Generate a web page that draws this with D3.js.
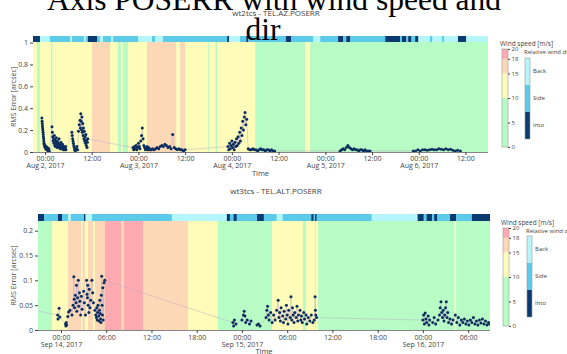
<!DOCTYPE html>
<html><head><meta charset="utf-8">
<script src="https://cdn.jsdelivr.net/npm/d3@7"></script>
<style>body{margin:0;background:#fff;overflow:hidden}text{font-family:"Open Sans","DejaVu Sans",sans-serif}</style>
</head><body><svg id="c" width="567" height="354"></svg>
<script>
// ---------------- DATA ----------------
const titleText = "Axis POSERR with wind speed and dir";
const panelTitles = ["wt2tcs - TEL.AZ.POSERR", "wt3tcs - TEL.ALT.POSERR"];
const speedThresholds = [10, 15, 18];
const speedColors = ["#b7fcc5", "#fdfdb9", "#fdd8b7", "#fdabb1"];
const speedTicks = [0, 5, 10, 15, 18, 20];
const dirCategories = ["Into", "Side", "Back"];
const dirColors = ["#0b3a70", "#5ccbe9", "#b4f6fb"];

// panel 1 (hours since 2017-08-02 00:00 UTC)
const azRangeH = [-3.08, 113.8];
const azYTicks = [0, 0.2, 0.4, 0.6, 0.8, 1];
const azSpeedStartH = [-3.1,-2.06,-1.29,1.54,1.93,12.08,16.7,18.76,19.5,20.0,21.3,26.2,33.7,34.7,36.0,41.9,42.1,43.8,44.2,54.0,66.8,68.1];
const azSpeed = [12,8,12,8,12,16,12,8,12,8,12,16,12,16,12,8,12,8,12,8,12,8];
const azDirStartH = [-3.1,-1.29,1.29,6.43,6.94,10.0,10.5,11.05,13.4,14.1,14.9,17.0,17.5,23.9,27.5,28.3,30.3,46.8,47.3,50.1,51.7,52.2,61.9,63.2,68.9,70.7,75.3,76.6,77.4,78.4,87.4,91.2,91.7,92.8,93.3,94.1,95.1,95.9,98.9,99.5,102.0,102.5,106.1,108.2];
const azDir = ["Into","Back","Side","Back","Side","Back","Side","Into","Side","Back","Side","Back","Side","Back","Side","Back","Side","Into","Back","Side","Into","Side","Into","Side","Back","Side","Into","Side","Into","Side","Into","Side","Into","Side","Into","Side","Into","Back","Side","Back","Side","Back","Into","Back"];
const azErr = [
[-0.8,0.31],[-0.75,0.28],[-0.7,0.26],[-0.65,0.24],[-0.6,0.22],[-0.55,0.2],[-0.5,0.18],[-0.45,0.16],[-0.4,0.14],[-0.35,0.12],[-0.3,0.1],[-0.25,0.08],[-0.2,0.07],[-0.1,0.05],[0,0.06],[0.1,0.04],[0.2,0.03],[0.3,0.05],[0.4,0.02],[0.5,0.03],[0.6,0.04],[0.7,0.02],[0.8,0.01],[0.9,0.02],[1.0,0.03],[1.1,0.01],
[1.8,0.23],[1.9,0.18],[2.0,0.14],[2.1,0.1],[2.2,0.12],[2.3,0.08],[2.4,0.15],[2.5,0.06],[2.6,0.11],[2.7,0.05],[2.8,0.09],[2.9,0.13],[3.0,0.07],[3.1,0.04],[3.2,0.1],[3.3,0.06],[3.4,0.08],[3.5,0.05],[3.6,0.12],[3.7,0.04],[3.8,0.07],[3.9,0.03],[4.0,0.06],[4.1,0.09],[4.2,0.04],[4.3,0.05],[4.4,0.03],[4.5,0.07],[4.6,0.04],[4.7,0.02],[4.8,0.05],[4.9,0.03],[5.0,0.04],[5.1,0.02],[5.2,0.03],[5.3,0.05],[5.4,0.02],
[6.9,0.18],[7.0,0.15],[7.1,0.12],[7.2,0.1],[7.3,0.08],[7.4,0.06],[7.5,0.04],[7.6,0.02],[7.8,0.01],[8.0,0.03],[8.2,0.05],[8.4,0.02],[8.6,0.19],[8.8,0.25],[9.0,0.29],[9.1,0.22],[9.2,0.35],[9.3,0.28],[9.4,0.2],[9.5,0.32],[9.6,0.18],[9.7,0.26],[9.8,0.15],[9.9,0.22],[10.0,0.12],[10.1,0.19],[10.2,0.1],[10.3,0.14],[10.4,0.08],[10.5,0.16],[10.6,0.06],[10.7,0.11],[10.8,0.04],[10.9,0.09],[11.0,0.12],
[22.6,0.04],[22.8,0.02],[23.0,0.05],[23.2,0.03],[23.4,0.06],[23.6,0.02],[23.8,0.04],[24.0,0.08],[24.2,0.05],[24.4,0.03],[24.6,0.1],[24.8,0.15],[25.0,0.22],[25.2,0.12],[25.4,0.06],[25.6,0.04],[25.8,0.02],[26.0,0.03],[26.2,0.05],[26.4,0.02],[26.6,0.04],[26.8,0.03],[27.0,0.02],
[27.3,0.02],[27.6,0.03],[28,0.02],[28.4,0.03],[28.8,0.04],[29.2,0.03],[29.6,0.05],[30,0.06],[30.4,0.05],[30.8,0.07],[31.2,0.06],[31.6,0.04],[32,0.05],[32.4,0.03],[32.8,0.16],[33.2,0.04],[33.6,0.03],[34,0.02],[34.4,0.03],[34.8,0.02],[35.2,0.02],[35.6,0.01],[36,0.02],
[47.0,0.05],[47.2,0.02],[47.4,0.08],[47.6,0.03],[47.8,0.06],[48.0,0.1],[48.2,0.04],[48.4,0.07],[48.6,0.02],[48.8,0.09],[49.0,0.05],[49.2,0.12],[49.4,0.06],[49.6,0.14],[49.8,0.08],[50.0,0.18],[50.2,0.1],[50.4,0.22],[50.6,0.15],[50.8,0.28],[51.0,0.2],[51.2,0.32],[51.4,0.36],[51.6,0.25],[51.8,0.3],
[52.2,0.03],[52.6,0.02],[53,0.02],[53.4,0.03],[53.8,0.02],[54.2,0.02],[54.6,0.01],[55,0.02],[55.4,0.03],[55.8,0.02],[56.2,0.02],[56.6,0.01],[57,0.02],[57.4,0.02],[57.8,0.01],[58.2,0.02],[58.6,0.01],[59,0.01],
[75.8,0.01],[76.2,0.02],[76.6,0.03],[77,0.02],[77.4,0.04],[77.8,0.06],[78.2,0.04],[78.6,0.03],[79,0.02],[79.4,0.03],[79.8,0.02],[80.2,0.02],[80.6,0.01],[81,0.02],[81.4,0.02],[81.8,0.01],[82.2,0.02],[82.6,0.01],[83,0.01],[83.5,0.01],
[94.6,0.01],[95.2,0.01],[95.8,0.02],[96.4,0.01],[97,0.02],[97.6,0.02],[98.2,0.015],[98.8,0.02],[99.4,0.025],[100,0.02],[100.6,0.02],[101.2,0.03],[101.8,0.025],[102.4,0.02],[103,0.03],[103.6,0.02],[104.2,0.025],[104.8,0.015],[105.4,0.01],[106,0.015],[106.7,0.01]
];

// panel 2 (hours since 2017-09-14 00:00 UTC)
const altRangeH = [-3.05, 56.9];
const altYTicks = [0, 0.05, 0.1, 0.15, 0.2];
const altSpeedStartH = [-3.1,-1.19,0.93,2.65,2.85,3.18,3.58,4.24,4.5,5.83,7.96,8.35,10.87,16.84,20.8,27.98,32.1,32.5,33.7,33.8,34.1,52.2,52.4];
const altSpeed = [8,12,16,12,16,12,16,12,16,19,16,19,16,12,8,12,8,12,8,12,8,12,8];
const altDirStartH = [-3.1,-2.25,-0.4,0.13,0.93,1.33,3.05,3.25,4.11,14.7,22.0,22.4,22.9,23.3,26.0,26.9,28.6,29.4,33.2,33.5,33.7,33.9,41.2,47.3,48.1,48.5,49.2,49.5,49.9,51.6,52.4,54.5];
const altDir = ["Into","Side","Into","Side","Back","Side","Into","Back","Side","Back","Into","Side","Into","Side","Into","Side","Back","Side","Into","Side","Into","Side","Back","Into","Side","Into","Side","Into","Side","Into","Side","Into"];
const altErr = [
[-5,0.045],
[-0.45,0.03],[-0.4,0.022],[-0.25,0.044],[-0.15,0.026],[0.6,0.012],[0.65,0.008],[0.7,0.015],[0.75,0.01],[0.9,0.027],[1.0,0.036],[1.2,0.04],[1.45,0.03],[1.6,0.05],[1.7,0.107],[1.75,0.062],[1.8,0.045],[1.9,0.07],[2.0,0.055],[2.05,0.09],[2.1,0.038],[2.2,0.065],[2.3,0.1],[2.35,0.048],[2.45,0.075],[2.5,0.058],[2.6,0.03],[2.7,0.068],[2.8,0.042],[3.0,0.078],[3.1,0.055],[3.25,0.03],[3.4,0.1],[3.45,0.072],[3.5,0.065],[3.55,0.09],[3.6,0.05],[3.7,0.035],[3.75,0.082],[3.85,0.045],[3.95,0.06],[4.1,0.1],[4.2,0.075],[4.3,0.055],[4.5,0.04],[4.6,0.03],[4.7,0.025],[4.75,0.045],[4.8,0.02],[4.85,0.035],[4.9,0.05],[5.0,0.028],[5.05,0.018],[5.1,0.04],[5.15,0.06],[5.2,0.033],[5.25,0.022],[5.3,0.015],[5.35,0.07],[5.4,0.108],[5.45,0.05],[5.5,0.03],[5.55,0.085],[5.6,0.02],[5.7,0.095],[5.8,0.1],
[22.8,0.015],[22.9,0.008],[23.0,0.02],[23.2,0.012],[24.0,0.02],[24.2,0.03],[24.3,0.038],[24.4,0.028],[24.5,0.015],[24.7,0.02],[25.0,0.012],[25.2,0.018],[26.0,0.01],[26.2,0.012],[26.4,0.008],[27.2,0.025],[27.3,0.04],[27.4,0.048],[27.5,0.03],[27.6,0.02],[27.8,0.035],[28.0,0.015],[28.2,0.03],[28.4,0.02],[28.6,0.04],[28.8,0.06],[28.9,0.025],[29.0,0.035],[29.1,0.018],[29.2,0.045],[29.4,0.028],[29.5,0.015],[29.6,0.038],[29.8,0.022],[29.9,0.05],[30.0,0.03],[30.1,0.012],[30.2,0.04],[30.4,0.025],[30.5,0.067],[30.6,0.02],[30.7,0.045],[30.8,0.03],[30.9,0.015],[31.0,0.035],[31.2,0.025],[31.3,0.048],[31.4,0.018],[31.5,0.03],[31.7,0.04],[31.8,0.02],[31.9,0.028],[32.0,0.015],[32.2,0.035],[32.3,0.022],[32.5,0.03],[32.6,0.012],[32.8,0.025],[33.0,0.018],[33.2,0.03],[33.4,0.015],[33.6,0.02],[33.7,0.067],[33.75,0.04],[33.8,0.03],[33.9,0.025],
[48.0,0.02],[48.1,0.03],[48.2,0.012],[48.3,0.034],[48.4,0.022],[48.5,0.015],[48.7,0.028],[48.8,0.01],[48.9,0.02],[49.3,0.015],[49.5,0.025],[49.7,0.012],[50.0,0.02],[50.2,0.03],[50.3,0.045],[50.4,0.057],[50.5,0.035],[50.6,0.025],[50.7,0.04],[50.8,0.018],[50.9,0.03],[51.0,0.045],[51.1,0.057],[51.2,0.025],[51.3,0.035],[51.4,0.015],[51.6,0.022],[51.8,0.012],[52.0,0.02],[52.3,0.03],[52.5,0.015],[52.7,0.025],[52.9,0.01],[53.1,0.02],[53.3,0.015],[53.5,0.022],[53.7,0.012],[53.9,0.018],[54.1,0.01],[54.3,0.02],[54.5,0.015],[54.7,0.025],[54.9,0.012],[55.1,0.018],[55.3,0.01],[55.5,0.02],[55.7,0.014],[55.9,0.022],[56.1,0.012],[56.3,0.018],[56.5,0.01],[56.7,0.015],[56.85,0.012]
];

// ---------------- DRAWING ----------------
const svg = d3.select("#c");
const speedColor = d3.scaleThreshold().domain(speedThresholds).range(speedColors);
const dirColor = d3.scaleOrdinal().domain(dirCategories).range(dirColors);
const grey = "#444";

const panels = [
  {title: panelTitles[0], base: Date.UTC(2017,7,2), range: azRangeH, yTicks: azYTicks, yMax: 1.005,
   speedStart: azSpeedStartH, speed: azSpeed, dirStart: azDirStartH, dir: azDir, err: azErr, tickEvery: 12,
   L: 33, R: 488, bandTop: 36, top: 42, bottom: 152, titleY: 16, xlab1: 161, timeY: 176,
   leg: {x: 502, titleY: 46, cbTop: 49, cbBot: 147, dx: 525, dtitleY: 54, dTop: 58, dBot: 139}},
  {title: panelTitles[1], base: Date.UTC(2017,8,14), range: altRangeH, yTicks: altYTicks, yMax: 0.2195,
   speedStart: altSpeedStartH, speed: altSpeed, dirStart: altDirStartH, dir: altDir, err: altErr, tickEvery: 6,
   L: 38, R: 490, bandTop: 214, top: 221, bottom: 330, titleY: 194, xlab1: 339.5, timeY: 353.5,
   leg: {x: 503, titleY: 224.5, cbTop: 228, cbBot: 326, dx: 527, dtitleY: 233, dTop: 236, dBot: 317}}
];

const hToDate = (base, h) => new Date(base + h * 3600e3);

panels.forEach((p, pi) => {
  const g = svg.append("g");
  const x = d3.scaleUtc().domain(p.range.map(h => hToDate(p.base, h))).range([p.L, p.R]);
  const y = d3.scaleLinear().domain([0, p.yMax]).range([p.bottom, p.top]);
  const clipId = "clip" + pi;
  svg.append("clipPath").attr("id", clipId).append("rect")
    .attr("x", p.L).attr("y", p.bandTop).attr("width", p.R - p.L).attr("height", p.bottom - p.bandTop);
  const cg = g.append("g").attr("clip-path", `url(#${clipId})`);

  const segs = p.speedStart.map((s, i) => ({s, e: i < p.speedStart.length - 1 ? p.speedStart[i+1] : p.range[1] + 1, v: p.speed[i]}));
  cg.selectAll("rect.sp").data(segs).join("rect").attr("class", "sp")
    .attr("x", d => x(hToDate(p.base, d.s))).attr("width", d => Math.max(0, x(hToDate(p.base, d.e)) - x(hToDate(p.base, d.s))) + 0.3)
    .attr("y", p.top).attr("height", p.bottom - p.top).attr("fill", d => speedColor(d.v));

  const dsegs = p.dirStart.map((s, i) => ({s, e: i < p.dirStart.length - 1 ? p.dirStart[i+1] : p.range[1] + 1, v: p.dir[i]}));
  cg.selectAll("rect.dr").data(dsegs).join("rect").attr("class", "dr")
    .attr("x", d => x(hToDate(p.base, d.s))).attr("width", d => Math.max(0, x(hToDate(p.base, d.e)) - x(hToDate(p.base, d.s))) + 0.3)
    .attr("y", p.bandTop).attr("height", p.top - p.bandTop).attr("fill", d => dirColor(d.v));

  const pts = p.err.map(d => ({t: hToDate(p.base, d[0]), v: d[1]}));
  const pg = g.append("g").attr("clip-path", `url(#${clipId})`);
  pg.append("path").datum(pts)
    .attr("d", d3.line().x(d => x(d.t)).y(d => y(d.v)))
    .attr("fill", "none").attr("stroke", "rgba(190,170,200,0.7)").attr("stroke-width", 0.7);
  pg.selectAll("circle").data(pts).join("circle")
    .attr("cx", d => x(d.t)).attr("cy", d => y(d.v)).attr("r", 1.5)
    .attr("fill", "#0b2d5e");

  const ya = g.append("g").attr("transform", `translate(${p.L},0)`)
    .call(d3.axisLeft(y).tickValues(p.yTicks).tickFormat(d3.format("~g")).tickSize(3).tickPadding(2));
  ya.select(".domain").remove();
  ya.selectAll("line").attr("stroke", grey);
  ya.selectAll("text").attr("fill", grey).style("font-size", "7px");

  const xa = g.append("g").attr("transform", `translate(0,${p.bottom})`)
    .call(d3.axisBottom(x).ticks(d3.utcHour.every(p.tickEvery)).tickSize(3).tickFormat(""));
  xa.select(".domain").attr("stroke", "#666").attr("stroke-width", 0.8).attr("d", `M${p.L},0.5H${p.R}`);
  xa.selectAll("line").attr("stroke", grey);
  xa.selectAll(".tick").each(function(d) {
    const t = d3.select(this).append("text").attr("fill", grey).style("font-size", "7px")
      .attr("text-anchor", "middle").attr("y", p.xlab1 - p.bottom);
    t.append("tspan").attr("x", 0).text(d3.utcFormat("%H:%M")(d));
    if (d.getUTCHours() === 0) t.append("tspan").attr("x", 0).attr("dy", 7).text(d3.utcFormat("%b %-d, %Y")(d));
  });

  g.append("text").attr("x", (p.L + p.R) / 2).attr("y", p.timeY).attr("text-anchor", "middle")
    .attr("fill", grey).style("font-size", "7.5px").text("Time");
  g.append("text").attr("transform", `translate(16,${(p.top + p.bottom) / 2}) rotate(-90)`)
    .attr("text-anchor", "middle").attr("fill", grey).style("font-size", "7px").text("RMS Error [arcsec]");
  g.append("text").attr("x", 276).attr("y", p.titleY).attr("text-anchor", "middle")
    .attr("fill", grey).style("font-size", "8px").text(p.title);

  const lg = p.leg;
  const cs = d3.scaleLinear().domain([0, 20]).range([lg.cbBot, lg.cbTop]);
  const bins = [0, ...speedThresholds, 20];
  const bg = g.append("g");
  bg.selectAll("rect").data(d3.pairs(bins)).join("rect")
    .attr("x", lg.x).attr("width", 6).attr("y", d => cs(d[1])).attr("height", d => cs(d[0]) - cs(d[1]))
    .attr("fill", d => speedColor(d[0]));
  bg.append("rect").attr("x", lg.x).attr("y", lg.cbTop).attr("width", 6).attr("height", lg.cbBot - lg.cbTop)
    .attr("fill", "none").attr("stroke", "#999").attr("stroke-width", 0.6);
  const ca = bg.append("g").attr("transform", `translate(${lg.x + 6},0)`)
    .call(d3.axisRight(cs).tickValues(speedTicks).tickSize(2).tickPadding(1.5));
  ca.select(".domain").remove();
  ca.selectAll("line").attr("stroke", grey);
  ca.selectAll("text").attr("fill", grey).style("font-size", "6px");
  g.append("text").attr("x", lg.x - 2).attr("y", lg.titleY).attr("fill", grey).style("font-size", "6.5px").text("Wind speed [m/s]");

  const ds = d3.scaleBand().domain(dirCategories).range([lg.dBot, lg.dTop]);
  const dg = g.append("g");
  dg.selectAll("rect").data(dirCategories).join("rect")
    .attr("x", lg.dx).attr("width", 5).attr("y", d => ds(d)).attr("height", ds.bandwidth())
    .attr("fill", d => dirColor(d));
  dg.append("rect").attr("x", lg.dx).attr("y", lg.dTop).attr("width", 5).attr("height", lg.dBot - lg.dTop)
    .attr("fill", "none").attr("stroke", "#999").attr("stroke-width", 0.6);
  const da = dg.append("g").attr("transform", `translate(${lg.dx + 5},0)`)
    .call(d3.axisRight(ds).tickSize(0).tickPadding(3));
  da.select(".domain").remove();
  da.selectAll("text").attr("fill", grey).style("font-size", "6px");
  g.append("text").attr("x", lg.dx - 1).attr("y", lg.dtitleY).attr("fill", grey).style("font-size", "6px").text("Relative wind direction");
});

const tt = svg.append("text").attr("text-anchor", "middle").attr("fill", "#000")
  .style("font-family", '"Liberation Serif","Times New Roman",serif').style("font-size", "31.5px");
tt.append("tspan").attr("x", 274).attr("y", 10).text("Axis POSERR with wind speed and");
tt.append("tspan").attr("x", 263).attr("y", 40).text("dir");
</script></body></html>
